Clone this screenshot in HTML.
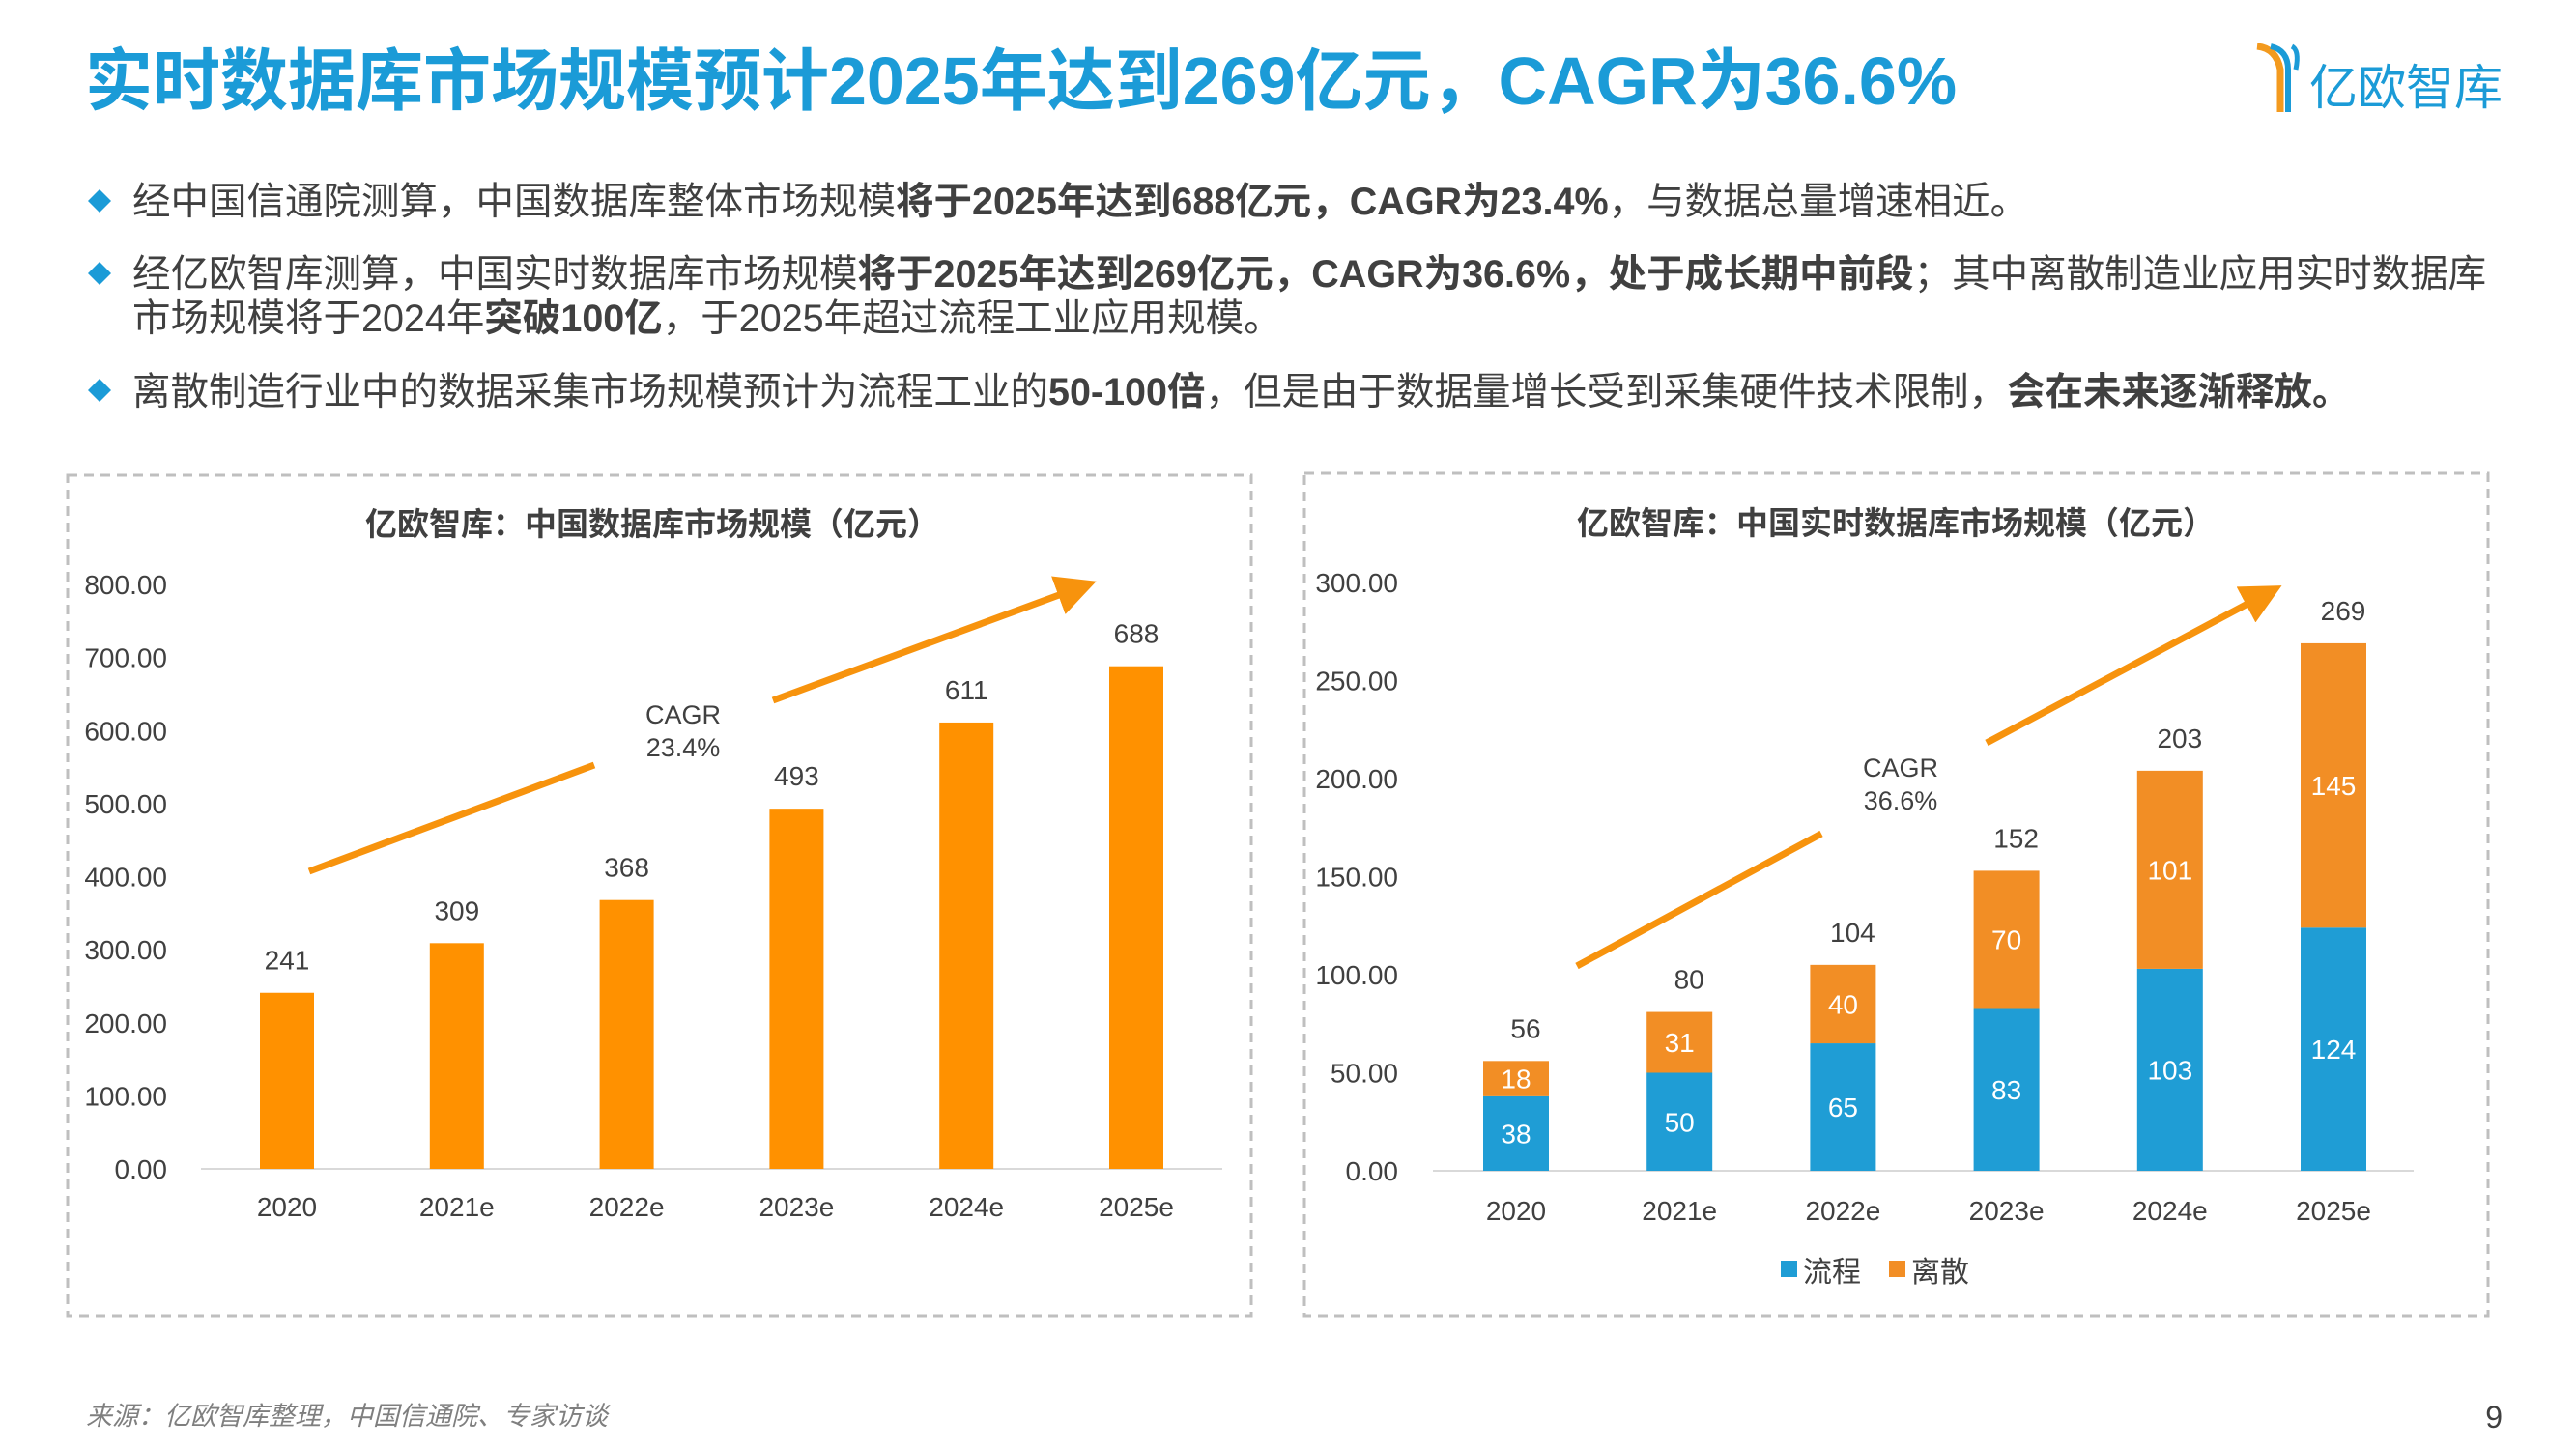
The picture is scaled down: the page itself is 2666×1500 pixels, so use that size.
<!DOCTYPE html>
<html><head><meta charset="utf-8">
<style>
body{margin:0;background:#fff;}
svg{display:block;font-family:"Liberation Sans","Noto Sans CJK SC",sans-serif;}
</style></head>
<body>
<svg id="page" width="2666" height="1500" viewBox="0 0 2666 1500" xmlns="http://www.w3.org/2000/svg">
<text x="88" y="108" font-size="70" font-weight="bold" fill="#1b9bd7">实时数据库市场规模预计2025年达到269亿元，CAGR为36.6%</text>
<g>
<path d="M2336 48 Q2356 50 2360 72 L2360 116" stroke="#f39a1e" stroke-width="7" fill="none"/>
<path d="M2350 48 Q2368 52 2368 72 L2368 116" stroke="#1b9bd7" stroke-width="6" fill="none"/>
<path d="M2372 48 Q2380 52 2376 72" stroke="#1b9bd7" stroke-width="5" fill="none"/>
<text x="2390" y="108" font-size="50" fill="#1b9bd7">亿欧智库</text>
</g>
<g font-size="39.5" fill="#404040">
<path d="M103 196 l12 12 l-12 12 l-12 -12z" fill="#1b9bd7"/>
<text x="137" y="222">经中国信通院测算，中国数据库整体市场规模<tspan font-weight="bold">将于2025年达到688亿元，CAGR为23.4%</tspan>，与数据总量增速相近。</text>
<path d="M103 271 l12 12 l-12 12 l-12 -12z" fill="#1b9bd7"/>
<text x="137" y="297">经亿欧智库测算，中国实时数据库市场规模<tspan font-weight="bold">将于2025年达到269亿元，CAGR为36.6%，处于成长期中前段</tspan>；其中离散制造业应用实时数据库</text>
<text x="137" y="343">市场规模将于2024年<tspan font-weight="bold">突破100亿</tspan>，于2025年超过流程工业应用规模。</text>
<path d="M103 392 l12 12 l-12 12 l-12 -12z" fill="#1b9bd7"/>
<text x="137" y="419">离散制造行业中的数据采集市场规模预计为流程工业的<tspan font-weight="bold">50-100倍</tspan>，但是由于数据量增长受到采集硬件技术限制，<tspan font-weight="bold">会在未来逐渐释放。</tspan></text>
</g>
<rect x="70" y="492" width="1225" height="870" fill="none" stroke="#bfbfbf" stroke-width="3" stroke-dasharray="10 7"/>
<rect x="1350" y="490" width="1225" height="872" fill="none" stroke="#bfbfbf" stroke-width="3" stroke-dasharray="10 7"/>
<text x="675" y="554" text-anchor="middle" font-size="33" font-weight="bold" fill="#404040">亿欧智库：中国数据库市场规模（亿元）</text>
<text x="1962" y="553" text-anchor="middle" font-size="33" font-weight="bold" fill="#404040">亿欧智库：中国实时数据库市场规模（亿元）</text>
<g id="left"></g>
<g id="right"></g>
<defs><marker id="ah" markerWidth="6" markerHeight="6" refX="3" refY="3" orient="auto"><path d="M0 0 L6 3 L0 6z" fill="#f7930d"/></marker></defs>
<g stroke="#f7930d" stroke-width="7">
<line x1="320" y1="902" x2="615" y2="792"/>
<line x1="800" y1="725" x2="1115" y2="609" marker-end="url(#ah)"/>
<line x1="1632" y1="1000" x2="1885" y2="863"/>
<line x1="2056" y1="769" x2="2343" y2="616" marker-end="url(#ah)"/>
</g>
<g font-size="27" fill="#404040" text-anchor="middle">
<text x="707" y="749">CAGR</text><text x="707" y="783">23.4%</text>
<text x="1967" y="804">CAGR</text><text x="1967" y="838">36.6%</text>
</g>
<g font-size="30" fill="#404040">
<rect x="1843" y="1305" width="17" height="17" fill="#1f9dd5"/>
<text x="1866" y="1327">流程</text>
<rect x="1955" y="1305" width="17" height="17" fill="#f28e25"/>
<text x="1978" y="1327">离散</text>
</g>
<text x="89" y="1475" font-size="27" font-style="italic" fill="#7f7f7f">来源：亿欧智库整理，中国信通院、专家访谈</text>
<text x="2590" y="1478" font-size="32" fill="#404040" text-anchor="end">9</text>
</svg>
<script>
const categories = ["2020","2021e","2022e","2023e","2024e","2025e"];
const leftValues = [241,309,368,493,611,688];
const leftTicks = ["0.00","100.00","200.00","300.00","400.00","500.00","600.00","700.00","800.00"];
const rightProcess = [38,50,65,83,103,124];
const rightDiscrete = [18,31,40,70,101,145];
const rightTotals = [56,80,104,152,203,269];
const rightTicks = ["0.00","50.00","100.00","150.00","200.00","250.00","300.00"];
const NS="http://www.w3.org/2000/svg";
function mk(parent,tag,attrs,txt){const e=document.createElementNS(NS,tag);for(const k in attrs)e.setAttribute(k,attrs[k]);if(txt!==undefined)e.textContent=txt;parent.appendChild(e);return e;}
(function(){
  const g=document.getElementById('left');
  const y0=1210,y1=605,vmax=800,x0=297,step=175.8,bw=56;
  const y=v=>y0-(v/vmax)*(y0-y1);
  const x=i=>x0+i*step;
  leftTicks.forEach(t=>{const e=mk(g,'text',{x:173,y:y(parseFloat(t))+10,'text-anchor':'end','font-size':28,fill:'#404040'},t);
    
    });
  const ax=mk(g,'line',{x1:208,x2:1265,y1:y0,y2:y0,stroke:'#d9d9d9','stroke-width':2});
  
  
  categories.forEach((c,i)=>{
    const b=mk(g,'rect',{x:x(i)-bw/2,y:y(leftValues[i]),width:bw,height:y0-y(leftValues[i]),fill:'#ff9100'});
    
    
    const l=mk(g,'text',{x:x(i),y:y(leftValues[i])-24,'text-anchor':'middle','font-size':28,fill:'#404040'},String(leftValues[i]));
    
    
    const xl=mk(g,'text',{x:x(i),y:1259,'text-anchor':'middle','font-size':28,fill:'#404040'},c);
    
    
  });
})();
(function(){
  const g=document.getElementById('right');
  const y0=1212,y1=603,vmax=300,x0=1569,step=169.2,bw=68;
  const y=v=>y0-(v/vmax)*(y0-y1);
  const x=i=>x0+i*step;
  rightTicks.forEach(t=>{const e=mk(g,'text',{x:1447,y:y(parseFloat(t))+10,'text-anchor':'end','font-size':28,fill:'#404040'},t);
    
    });
  const ax=mk(g,'line',{x1:1483,x2:2498,y1:y0,y2:y0,stroke:'#d9d9d9','stroke-width':2});
  
  
  categories.forEach((c,i)=>{
    const p=rightProcess[i],d=rightDiscrete[i],tot=rightTotals[i];
    const b1=mk(g,'rect',{x:x(i)-bw/2,y:y(p),width:bw,height:y0-y(p),fill:'#1f9dd5'});
    
    
    const b2=mk(g,'rect',{x:x(i)-bw/2,y:y(p+d),width:bw,height:y(p)-y(p+d),fill:'#f28e25'});
    
    
    const l1=mk(g,'text',{x:x(i),y:(y0+y(p))/2+10,'text-anchor':'middle','font-size':28,fill:'#fff'},String(p));
    
    
    const l2=mk(g,'text',{x:x(i),y:(y(p)+y(p+d))/2+10,'text-anchor':'middle','font-size':28,fill:'#fff'},String(d));
    
    
    const lt=mk(g,'text',{x:x(i)+10,y:y(p+d)-24,'text-anchor':'middle','font-size':28,fill:'#404040'},String(tot));
    
    
    const xl=mk(g,'text',{x:x(i),y:1263,'text-anchor':'middle','font-size':28,fill:'#404040'},c);
    
    
  });
})();
</script>
</body></html>
